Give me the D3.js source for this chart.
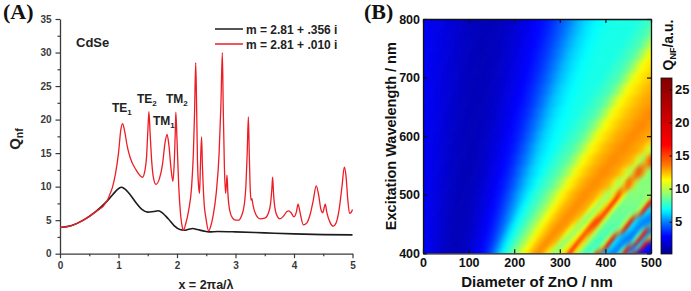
<!DOCTYPE html>
<html><head><meta charset="utf-8">
<script src="https://cdn.jsdelivr.net/npm/d3@7"></script>
<style>
body{margin:0;background:#fff;}
svg{display:block;font-family:Arial,"Liberation Sans",sans-serif;font-weight:bold;}
</style>
</head><body>
<svg id="c" width="691" height="291"></svg>
<script>
// ---------------- Panel A data ----------------
const redX = [0,0.2,0.4,0.6,0.8,0.85,0.9,0.95,1.0,1.04,1.07,1.1,1.15,1.2,1.3,1.41,1.45,1.48,1.5,1.52,1.54,1.57,1.6,1.64,1.7,1.75,1.8,1.83,1.86,1.9,1.93,1.95,1.97,1.98,2.0,2.03,2.06,2.09,2.11,2.15,2.2,2.25,2.28,2.3,2.32,2.335,2.35,2.37,2.385,2.4,2.42,2.435,2.46,2.5,2.54,2.58,2.62,2.67,2.72,2.75,2.775,2.79,2.81,2.83,2.845,2.855,2.87,2.9,2.95,3.0,3.05,3.1,3.15,3.18,3.2,3.22,3.235,3.25,3.265,3.28,3.3,3.35,3.42,3.5,3.56,3.6,3.62,3.635,3.65,3.68,3.72,3.76,3.82,3.88,3.91,3.95,4.0,4.04,4.07,4.1,4.16,4.22,4.28,4.33,4.38,4.42,4.46,4.49,4.52,4.535,4.56,4.62,4.67,4.72,4.77,4.82,4.86,4.89,4.92,4.95,4.98,5.0];
const redY = [3.9,4.2,5.0,6.2,7.8,8.8,10.0,12.0,15.0,18.5,19.4,18.5,16.0,14.3,12.5,11.4,12.3,14.5,18.0,21.2,18.0,13.5,11.2,10.35,11.2,13.2,16.8,17.8,16.3,12.5,10.8,13.0,18.0,21.1,17.0,10.0,6.0,4.0,3.5,4.5,6.5,10.0,15.0,21.0,28.5,22.0,14.0,10.0,9.0,13.0,17.4,13.0,8.0,5.0,3.4,4.2,5.8,9.0,15.0,22.0,30.0,22.0,13.0,9.0,10.5,11.7,9.0,6.5,5.3,5.0,5.0,5.6,7.3,10.5,15.0,20.4,15.0,10.0,8.0,8.2,7.2,5.8,5.2,5.3,6.0,7.5,9.5,11.4,9.0,6.5,5.5,5.2,5.6,6.3,6.4,6.1,5.5,6.2,7.4,6.3,4.3,4.6,6.0,8.0,10.1,8.8,6.6,6.1,7.0,7.4,6.2,4.6,4.1,4.6,6.5,10.0,12.9,11.5,8.0,6.0,6.2,6.6];
const blackX = [0,0.2,0.4,0.6,0.8,0.9,1.0,1.05,1.1,1.2,1.3,1.4,1.5,1.6,1.68,1.75,1.85,1.95,2.05,2.12,2.2,2.27,2.35,2.45,2.55,2.7,3.0,3.5,4.0,4.5,5.0];
const blackY = [3.9,4.2,5.0,6.2,7.8,8.8,9.7,9.9,9.7,8.8,7.6,6.6,6.2,6.3,6.4,6.1,5.2,4.2,3.6,3.5,3.65,3.75,3.6,3.4,3.25,3.3,3.25,3.1,2.95,2.85,2.8];
const xTicksA = [0,1,2,3,4,5];
const xMinorA = [0.5,1.5,2.5,3.5,4.5];
const yTicksA = [0,5,10,15,20,25,30,35];
const yMinorA = [2.5,7.5,12.5,17.5,22.5,27.5,32.5];
const legendLabels = ["m = 2.81 + .356 i","m = 2.81 + .010 i"];
const modeNames = ["TE","TE","TM","TM"];
const modeSubs = ["1","2","1","2"];

// ---------------- Panel B data ----------------
const diameters = [0,10,20,30,40,50,60,70,80,90,100,110,120,130,140,150,160,170,180,190,200,210,220,230,240,250,260,270,280,290,300,310,320,330,340,350,360,370,380,390,400,410,420,430,440,450,460,470,480,490,500];
const wavelengths = [400,410,420,430,440,450,460,470,480,490,500,520,540,560,580,600,620,640,660,680,700,720,740,760,780,800];
const qnf = [
[2.6,2.4,2.2,1.9,1.6,1.4,1.2,1.15,1.2,1.4,1.7,2.1,2.5,3.0,3.4,4.3,5.35,6.4,7.2,8.1,9.05,10.0,11.1,12.0,12.7,13.2,12.85,11.4,9.6,9.4,10.6,11.9,16.0,11.5,9.5,8.05,7.6,10.0,17.5,6.5,5.5,5.0,5.0,8.0,17.5,6.0,17.0,3.2,3.0,2.8,2.8],
[2.6,2.4,2.2,1.9,1.65,1.4,1.25,1.15,1.2,1.35,1.65,2.0,2.4,2.8,3.25,3.9,4.85,5.85,6.75,7.5,8.35,9.25,10.25,11.3,12.1,12.75,13.2,12.9,12.0,9.8,9.1,10.4,11.75,15.7,11.85,9.65,8.15,7.75,7.75,10.0,17.5,6.5,5.5,5.0,8.0,17.5,4.5,7.0,17.0,3.2,3.0],
[2.6,2.4,2.2,1.9,1.7,1.45,1.3,1.2,1.2,1.3,1.55,1.9,2.3,2.7,3.1,3.6,4.35,5.35,6.3,7.1,7.75,8.6,9.4,10.45,11.45,12.2,12.75,13.2,12.95,12.5,10.0,9.1,10.2,11.55,15.4,12.15,9.85,8.3,7.9,7.9,10.0,17.5,6.5,5.5,5.0,5.0,8.0,17.5,6.0,17.0,3.2],
[2.6,2.4,2.25,1.95,1.7,1.45,1.3,1.15,1.15,1.25,1.5,1.8,2.15,2.55,2.95,3.4,4.0,4.85,5.85,6.65,7.35,8.0,8.8,9.55,10.65,11.55,12.25,12.75,13.2,13.0,12.6,10.55,9.3,9.95,11.4,15.1,12.5,10.0,8.35,8.0,8.0,10.0,17.5,6.5,5.5,5.0,5.0,8.0,17.5,6.0,11.0],
[2.6,2.4,2.25,2.0,1.7,1.5,1.3,1.2,1.15,1.25,1.45,1.7,2.05,2.4,2.8,3.2,3.75,4.45,5.35,6.25,6.95,7.55,8.2,8.95,9.8,10.85,11.7,12.35,12.8,13.2,13.05,12.7,11.15,9.5,9.7,11.2,14.8,13.6,10.2,8.45,8.15,8.15,8.15,10.0,17.5,6.5,5.5,5.0,8.0,17.5,4.5],
[2.6,2.4,2.25,2.0,1.75,1.5,1.35,1.2,1.15,1.2,1.4,1.65,1.95,2.3,2.7,3.1,3.55,4.2,4.9,5.8,6.6,7.2,7.75,8.4,9.1,10.0,11.05,11.8,12.4,12.8,13.15,13.1,12.75,11.75,9.7,9.4,10.95,15.0,15.0,10.4,8.45,8.3,8.3,8.3,10.0,17.5,6.5,5.5,5.0,5.0,7.0],
[2.6,2.45,2.25,2.0,1.75,1.55,1.35,1.2,1.15,1.2,1.35,1.55,1.85,2.2,2.6,2.95,3.35,3.95,4.62,5.3,6.15,6.85,7.4,7.9,8.6,9.25,10.2,11.25,11.85,12.45,12.8,13.15,13.1,12.8,12.3,9.95,9.05,10.75,14.3,15.2,10.6,8.5,8.45,8.45,8.45,10.0,17.5,6.5,5.5,5.0,5.0],
[2.6,2.45,2.25,2.05,1.8,1.55,1.4,1.2,1.15,1.2,1.3,1.5,1.8,2.1,2.45,2.85,3.2,3.75,4.35,5.05,5.75,6.5,7.05,7.6,8.05,8.7,9.4,10.4,11.4,11.95,12.5,12.85,13.15,13.15,12.85,12.55,10.45,9.15,10.45,12.45,15.6,10.8,8.5,8.6,8.6,8.6,8.6,10.0,17.5,6.5,5.5],
[2.6,2.45,2.25,2.05,1.8,1.55,1.4,1.25,1.15,1.2,1.25,1.45,1.7,2.05,2.35,2.75,3.1,3.5,4.1,4.8,5.43,6.1,6.75,7.3,7.75,8.2,8.85,9.5,10.6,11.5,12.05,12.55,12.85,13.15,13.15,12.85,12.6,11.0,9.4,10.15,12.1,15.8,11.0,8.65,8.7,8.7,8.7,8.7,10.0,17.5,6.5],
[2.6,2.45,2.25,2.05,1.8,1.6,1.4,1.25,1.15,1.15,1.25,1.4,1.65,1.95,2.25,2.6,3.0,3.35,3.9,4.5,5.15,5.8,6.4,6.95,7.45,7.85,8.35,9.0,9.75,10.8,11.6,12.1,12.55,12.85,13.15,13.15,12.9,12.65,11.55,9.65,9.8,11.8,16.0,11.25,8.8,8.85,8.85,8.85,8.85,10.0,17.0],
[2.6,2.45,2.3,2.1,1.85,1.6,1.45,1.3,1.2,1.15,1.2,1.35,1.6,1.85,2.2,2.5,2.85,3.2,3.7,4.25,4.9,5.55,6.06,6.6,7.15,7.6,7.95,8.5,9.1,9.95,11.0,11.65,12.15,12.6,12.85,13.15,13.2,12.95,12.7,12.05,9.9,9.45,11.55,16.0,11.5,9.0,8.9,9.0,9.0,9.0,9.5],
[2.6,2.45,2.3,2.1,1.9,1.65,1.5,1.3,1.2,1.15,1.2,1.3,1.45,1.7,2.0,2.3,2.65,3.0,3.35,3.8,4.4,5.0,5.6,6.1,6.5,7.0,7.45,7.8,8.1,8.75,9.35,10.35,11.35,11.8,12.25,12.65,12.9,13.15,13.2,13.0,12.75,12.55,10.85,9.25,10.95,15.7,12.3,9.4,8.85,9.0,9.0],
[2.6,2.45,2.3,2.15,1.9,1.7,1.5,1.35,1.2,1.15,1.15,1.25,1.4,1.6,1.85,2.15,2.45,2.75,3.1,3.45,3.95,4.55,5.15,5.7,6.15,6.5,6.85,7.3,7.65,7.95,8.35,8.95,9.7,10.75,11.5,11.95,12.35,12.65,12.9,13.15,13.25,13.05,12.85,12.65,11.8,9.8,10.1,15.1,14.0,9.85,8.75],
[2.6,2.45,2.3,2.15,1.95,1.75,1.55,1.4,1.25,1.2,1.15,1.2,1.3,1.5,1.7,2.0,2.25,2.55,2.9,3.2,3.6,4.1,4.65,5.2,5.75,6.2,6.55,6.8,7.15,7.5,7.8,8.05,8.55,9.2,10.1,11.2,11.65,12.05,12.45,12.7,12.9,13.15,13.25,13.05,12.9,12.7,12.5,10.7,9.1,12.55,15.5],
[2.6,2.45,2.3,2.2,1.95,1.75,1.55,1.45,1.3,1.2,1.15,1.15,1.25,1.4,1.6,1.85,2.1,2.4,2.7,3.0,3.3,3.75,4.25,4.8,5.35,5.85,6.25,6.55,6.8,7.0,7.35,7.65,7.9,8.15,8.8,9.45,10.5,11.4,11.75,12.15,12.5,12.7,12.95,13.15,13.25,13.1,12.9,12.75,12.6,11.65,9.75],
[2.6,2.45,2.35,2.2,2.0,1.8,1.6,1.45,1.35,1.2,1.15,1.15,1.2,1.35,1.5,1.7,1.95,2.25,2.5,2.8,3.1,3.4,3.85,4.35,4.9,5.45,5.9,6.3,6.55,6.8,7.0,7.2,7.45,7.75,7.95,8.35,9.05,9.85,10.95,11.55,11.9,12.2,12.55,12.75,12.95,13.15,13.25,13.1,12.95,12.8,12.65],
[2.6,2.45,2.35,2.2,2.05,1.85,1.65,1.5,1.35,1.25,1.2,1.15,1.2,1.3,1.4,1.6,1.8,2.1,2.35,2.6,2.9,3.2,3.55,4.0,4.5,5.0,5.5,5.95,6.3,6.6,6.8,7.0,7.1,7.3,7.6,7.8,8.05,8.6,9.3,10.25,11.3,11.65,11.95,12.3,12.55,12.75,12.95,13.15,13.3,13.15,13.0],
[2.6,2.5,2.35,2.25,2.05,1.85,1.7,1.5,1.4,1.3,1.2,1.15,1.2,1.25,1.35,1.5,1.7,1.95,2.2,2.45,2.75,3.0,3.3,3.65,4.1,4.6,5.1,5.6,6.0,6.35,6.6,6.8,7.0,7.1,7.15,7.45,7.65,7.9,8.15,8.85,9.55,10.7,11.45,11.75,12.05,12.35,12.6,12.8,12.95,13.15,13.3],
[2.6,2.5,2.35,2.25,2.05,1.9,1.7,1.55,1.45,1.3,1.2,1.15,1.15,1.2,1.3,1.45,1.6,1.8,2.05,2.3,2.55,2.8,3.1,3.35,3.8,4.2,4.7,5.2,5.7,6.05,6.35,6.6,6.8,7.0,7.1,7.15,7.3,7.5,7.75,7.95,8.4,9.1,10.0,11.1,11.55,11.85,12.15,12.4,12.65,12.8,12.95],
[2.6,2.5,2.35,2.25,2.1,1.9,1.75,1.6,1.45,1.35,1.2,1.2,1.15,1.2,1.25,1.35,1.5,1.7,1.95,2.15,2.4,2.65,2.9,3.2,3.5,3.9,4.35,4.8,5.3,5.75,6.1,6.4,6.65,6.8,7.0,7.1,7.15,7.2,7.35,7.6,7.8,8.05,8.65,9.35,10.45,11.35,11.65,11.9,12.2,12.5,12.65],
[2.6,2.5,2.35,2.25,2.1,1.95,1.75,1.6,1.5,1.35,1.25,1.2,1.15,1.15,1.2,1.3,1.45,1.6,1.8,2.05,2.25,2.5,2.75,3.0,3.25,3.6,4.0,4.45,4.9,5.35,5.8,6.1,6.4,6.65,6.85,7.0,7.1,7.15,7.2,7.2,7.45,7.65,7.9,8.15,8.9,9.75,10.85,11.45,11.75,12.0,12.25],
[2.6,2.5,2.4,2.25,2.15,1.95,1.8,1.65,1.5,1.4,1.3,1.2,1.15,1.15,1.2,1.25,1.4,1.55,1.7,1.9,2.15,2.35,2.6,2.85,3.1,3.35,3.7,4.1,4.55,5.0,5.45,5.85,6.15,6.45,6.65,6.85,7.0,7.1,7.15,7.2,7.2,7.3,7.5,7.75,7.95,8.45,9.2,10.15,11.3,11.55,11.8],
[2.6,2.5,2.4,2.3,2.15,2.0,1.85,1.65,1.55,1.45,1.3,1.2,1.2,1.15,1.2,1.2,1.35,1.45,1.6,1.8,2.0,2.25,2.45,2.7,2.95,3.2,3.45,3.8,4.2,4.65,5.05,5.5,5.9,6.2,6.45,6.65,6.85,7.0,7.1,7.15,7.2,7.2,7.2,7.4,7.6,7.85,8.05,8.7,9.45,10.6,11.4],
[2.6,2.5,2.4,2.3,2.15,2.0,1.85,1.7,1.55,1.45,1.35,1.25,1.2,1.15,1.15,1.2,1.3,1.4,1.55,1.7,1.9,2.1,2.35,2.55,2.8,3.0,3.25,3.55,3.9,4.3,4.75,5.15,5.55,5.9,6.25,6.45,6.7,6.85,7.0,7.1,7.15,7.2,7.2,7.2,7.25,7.45,7.7,7.9,8.2,9.0,9.9],
[2.6,2.5,2.4,2.3,2.2,2.05,1.9,1.7,1.6,1.5,1.35,1.25,1.2,1.15,1.15,1.2,1.25,1.35,1.45,1.6,1.8,2.0,2.2,2.4,2.65,2.85,3.1,3.35,3.65,4.0,4.4,4.8,5.2,5.6,5.95,6.25,6.5,6.7,6.85,7.0,7.1,7.15,7.2,7.2,7.2,7.2,7.3,7.55,7.75,8.0,8.45],
[2.6,2.5,2.4,2.3,2.2,2.05,1.9,1.75,1.6,1.5,1.4,1.3,1.2,1.2,1.15,1.2,1.2,1.3,1.4,1.55,1.7,1.9,2.1,2.3,2.5,2.75,2.95,3.2,3.4,3.75,4.1,4.5,4.9,5.3,5.7,6.0,6.3,6.5,6.7,6.85,7.0,7.1,7.15,7.2,7.2,7.2,7.2,7.2,7.4,7.6,7.85]
];
const xTicksB = [0,100,200,300,400,500];
const yTicksB = [400,500,600,700,800];
const cbTicks = [5,10,15,20,25];
const cbRange = [0.13,26.7];
const colorStopVals = [0.13,2.8,5,6.8,8.9,11.3,13.4,16.6,26.7];
const colorStopCols = ["#00008c","#0000ff","#0080ff","#00ffff","#80ff80","#ffff00","#ff8000","#ff0000","#800000"];

// ---------------- Drawing ----------------
const svg = d3.select("#c");
const axisCol = "#3a3a3a";

function styleAxis(g, fs, col){
  g.select(".domain").attr("stroke", col).attr("stroke-width", 1.3);
  g.selectAll(".tick line").attr("stroke", col).attr("stroke-width", 1.2);
  g.selectAll(".tick text").attr("fill", col).attr("font-size", fs).attr("font-weight","bold")
   .attr("font-family","Arial, 'Liberation Sans', sans-serif");
}

// Panel A
const xA = d3.scaleLinear([0,5],[60,352.5]);
const yA = d3.scaleLinear([0,35],[253.7,19]);
const gA = svg.append("g");

gA.append("g").attr("transform",`translate(0,${yA(0)})`)
  .call(d3.axisBottom(xA).tickValues(xMinorA).tickSize(2.5).tickSizeOuter(0).tickFormat(""))
  .call(g=>{styleAxis(g,10,axisCol); g.select(".domain").remove();});
gA.append("g").attr("transform",`translate(${xA(0)},0)`)
  .call(d3.axisLeft(yA).tickValues(yMinorA).tickSize(2.5).tickSizeOuter(0).tickFormat(""))
  .call(g=>{styleAxis(g,10,axisCol); g.select(".domain").remove();});
gA.append("g").attr("transform",`translate(0,${yA(0)})`)
  .call(d3.axisBottom(xA).tickValues(xTicksA).tickSize(4.5).tickSizeOuter(0).tickPadding(4).tickFormat(d3.format("d")))
  .call(g=>styleAxis(g,10,axisCol));
gA.append("g").attr("transform",`translate(${xA(0)},0)`)
  .call(d3.axisLeft(yA).tickValues(yTicksA).tickSize(4.5).tickSizeOuter(0).tickPadding(4).tickFormat(d3.format("d")))
  .call(g=>styleAxis(g,10,axisCol));

const lineA = (xs, ys) => d3.line().x((d,i)=>xA(xs[i])).y((d,i)=>yA(ys[i])).curve(d3.curveMonotoneX)(xs);
gA.append("path").attr("d", lineA(blackX, blackY)).attr("fill","none").attr("stroke","#1c1c1c").attr("stroke-width",1.6);
gA.append("path").attr("d", lineA(redX, redY)).attr("fill","none").attr("stroke","#ee1c24").attr("stroke-width",1.3);

// legend
const legCols = ["#1c1c1c","#ee1c24"];
const legY = [29, 44];
legendLabels.forEach((t,i)=>{
  gA.append("line").attr("x1",215).attr("x2",243).attr("y1",legY[i]).attr("y2",legY[i])
    .attr("stroke",legCols[i]).attr("stroke-width",1.5);
  gA.append("text").attr("x",246).attr("y",legY[i]+4.5).attr("font-size",12).attr("fill","#222").text(t);
});
gA.append("text").attr("x",76).attr("y",47).attr("font-size",13).attr("fill","#222").text("CdSe");

// mode labels
const modePos = [[112,112],[137,103],[153,125],[166,103]];
modeNames.forEach((n,i)=>{
  const t = gA.append("text").attr("x",modePos[i][0]).attr("y",modePos[i][1]).attr("font-size",12).attr("fill","#222");
  t.append("tspan").text(n);
  t.append("tspan").attr("font-size",8).attr("dy",3).text(modeSubs[i]);
});

// axis titles A
gA.append("text").attr("x",206).attr("y",289).attr("text-anchor","middle").attr("font-size",12.5).attr("fill","#222")
  .text("x = 2\u03c0a/\u03bb");
const qa = gA.append("text").attr("transform","translate(20,139) rotate(-90)").attr("text-anchor","middle").attr("font-size",15).attr("fill","#222");
qa.append("tspan").text("Q");
qa.append("tspan").attr("font-size",10.5).attr("dy",3).text("nf");

svg.append("text").attr("x",3).attr("y",19).attr("font-family","'Liberation Serif','Times New Roman',serif")
  .attr("font-size",22).attr("fill","#111").text("(A)");
svg.append("text").attr("x",364).attr("y",19).attr("font-family","'Liberation Serif','Times New Roman',serif")
  .attr("font-size",22).attr("fill","#111").text("(B)");

// Panel B
const xB = d3.scaleLinear([0,500],[423,651]);
const yB = d3.scaleLinear([400,800],[253.3,19]);
const color = d3.scaleLinear().domain(colorStopVals).range(colorStopCols).clamp(true);
const gB = svg.append("g");
const defs = svg.append("defs");
defs.append("clipPath").attr("id","clipB").append("rect")
  .attr("x",xB(0)).attr("y",yB(800)).attr("width",xB(500)-xB(0)).attr("height",yB(400)-yB(800));

const cx = (xB(0)+xB(500))/2, cyc = (yB(400)+yB(800))/2, ang = 49;
defs.append("filter").attr("id","smoothB").attr("filterUnits","userSpaceOnUse")
  .attr("x",cx-260).attr("y",cyc-260).attr("width",520).attr("height",520)
  .attr("color-interpolation-filters","sRGB")
  .append("feGaussianBlur").attr("stdDeviation","4.5 0.9");

const dStep = diameters[1]-diameters[0];
const nD = diameters.length, nW = wavelengths.length, ext = 30;
const wLo = i => i===0 ? wavelengths[0]-(wavelengths[1]-wavelengths[0])/2 : (wavelengths[i-1]+wavelengths[i])/2;
const wHi = i => i===nW-1 ? wavelengths[i]+(wavelengths[i]-wavelengths[i-1])/2 : (wavelengths[i]+wavelengths[i+1])/2;
const cells = [];
wavelengths.forEach((w,i)=>diameters.forEach((d,j)=>cells.push({d,w,i,j,v:qnf[i][j]})));
gB.append("g").attr("clip-path","url(#clipB)")
  .append("g").attr("transform",`rotate(${-ang},${cx},${cyc})`).attr("filter","url(#smoothB)")
  .append("g").attr("transform",`rotate(${ang},${cx},${cyc})`)
  .selectAll("rect").data(cells).join("rect")
  .attr("x",c=>xB(c.d - dStep/2) - (c.j===0?ext:0))
  .attr("y",c=>yB(wHi(c.i)) - (c.i===nW-1?ext:0))
  .attr("width",c=>xB(c.d + dStep/2)-xB(c.d - dStep/2)+0.5 + (c.j===0?ext:0) + (c.j===nD-1?ext:0))
  .attr("height",c=>yB(wLo(c.i))-yB(wHi(c.i))+0.5 + (c.i===0?ext:0) + (c.i===nW-1?ext:0))
  .attr("fill",c=>color(c.v));

gB.append("g").attr("transform",`translate(0,${yB(400)})`)
  .call(d3.axisBottom(xB).tickValues(xTicksB).tickSize(-4).tickSizeOuter(0).tickPadding(5).tickFormat(d3.format("d")))
  .call(g=>styleAxis(g,12.5,"#111"));
gB.append("g").attr("transform",`translate(0,${yB(800)})`)
  .call(d3.axisTop(xB).tickValues(xTicksB).tickSize(-4).tickSizeOuter(0).tickFormat(""))
  .call(g=>styleAxis(g,12.5,"#111"));
gB.append("g").attr("transform",`translate(${xB(0)},0)`)
  .call(d3.axisLeft(yB).tickValues(yTicksB).tickSize(-4).tickSizeOuter(0).tickPadding(3).tickFormat(d3.format("d")))
  .call(g=>styleAxis(g,12.5,"#111"));
gB.append("g").attr("transform",`translate(${xB(500)},0)`)
  .call(d3.axisRight(yB).tickValues(yTicksB).tickSize(-4).tickSizeOuter(0).tickFormat(""))
  .call(g=>styleAxis(g,12.5,"#111"));

gB.append("text").attr("transform",`translate(396,${cyc}) rotate(-90)`).attr("text-anchor","middle")
  .attr("font-size",14.5).attr("fill","#111").text("Excitation Wavelength / nm");
gB.append("text").attr("x",cx).attr("y",287).attr("text-anchor","middle")
  .attr("font-size",15).attr("fill","#111").text("Diameter of ZnO / nm");

// colorbar
const cY = d3.scaleLinear(cbRange,[254,78]);
const grad = defs.append("linearGradient").attr("id","cbg").attr("x1",0).attr("y1",1).attr("x2",0).attr("y2",0);
d3.range(0,1.0001,0.02).forEach(f=>{
  const v = cbRange[0] + f*(cbRange[1]-cbRange[0]);
  grad.append("stop").attr("offset",f).attr("stop-color",color(v));
});
gB.append("rect").attr("x",661).attr("y",cY(cbRange[1])).attr("width",11).attr("height",cY(cbRange[0])-cY(cbRange[1]))
  .attr("fill","url(#cbg)").attr("stroke","#111").attr("stroke-width",0.8);
gB.append("g").attr("transform","translate(672,0)")
  .call(d3.axisRight(cY).tickValues(cbTicks).tickSize(-2.5).tickSizeOuter(0).tickPadding(3).tickFormat(d3.format("d")))
  .call(g=>{styleAxis(g,13,"#111"); g.select(".domain").remove();});
const cbt = gB.append("text").attr("transform","translate(673,45) rotate(-90)").attr("text-anchor","middle")
  .attr("font-size",14).attr("fill","#111");
cbt.append("tspan").text("Q");
cbt.append("tspan").attr("font-size",9).attr("dy",3).text("NF");
cbt.append("tspan").attr("dy",-3).text("/a.u.");
</script>
</body></html>
